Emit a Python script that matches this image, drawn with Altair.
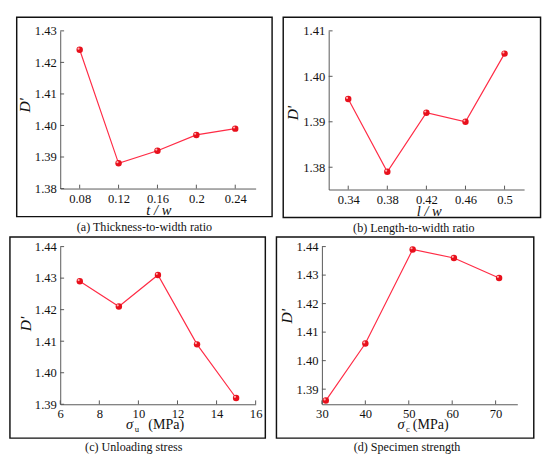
import altair as alt
import pandas as pd

# ---------------- data ----------------
a_x = [0.08, 0.12, 0.16, 0.20, 0.24]
a_y = [1.424, 1.388, 1.392, 1.397, 1.399]
a_xticks = [0.08, 0.12, 0.16, 0.20, 0.24]
a_yticks = [1.38, 1.39, 1.40, 1.41, 1.42, 1.43]

b_x = [0.34, 0.38, 0.42, 0.46, 0.50]
b_y = [1.395, 1.379, 1.392, 1.390, 1.405]
b_xticks = [0.34, 0.38, 0.42, 0.46, 0.50]
b_yticks = [1.38, 1.39, 1.40, 1.41]

c_x = [7, 9, 11, 13, 15]
c_y = [1.429, 1.421, 1.431, 1.409, 1.392]
c_xticks = [6, 8, 10, 12, 14, 16]
c_yticks = [1.39, 1.40, 1.41, 1.42, 1.43, 1.44]

d_x = [30.9, 40.0, 50.9, 60.4, 70.8]
d_y = [1.386, 1.406, 1.439, 1.436, 1.429]
d_xticks = [30, 40, 50, 60, 70]
d_yticks = [1.39, 1.40, 1.41, 1.42, 1.43, 1.44]

captions = ["(a) Thickness-to-width ratio", "(b) Length-to-width ratio",
            "(c) Unloading stress", "(d) Specimen strength"]

SERIF = "'Liberation Serif', 'Times New Roman', Times, serif"
RED_LINE = "#ff2b45"
RED = "#e8101c"
SHINE = "#ffb0b0"
AXC = "#555555"
TXT = "#111111"
ONE = pd.DataFrame({"k": [0]})


def panel(xs, ys, xdom, ydom, xticks, yticks, xfmt, w, h, frame,
          ytitle_xy, xtitle, xt_dy, caption, cap_xy):
    pts = pd.DataFrame({"x": xs, "y": ys})
    X = alt.X("x:Q", scale=alt.Scale(domain=xdom, nice=False, zero=False),
              axis=alt.Axis(values=xticks, format=xfmt, title=None, ticks=False,
                            grid=False, labelPadding=4, labelFlush=False,
                            labelOverlap=False))
    Y = alt.Y("y:Q", scale=alt.Scale(domain=ydom, nice=False, zero=False),
              axis=alt.Axis(values=yticks, format=".2f", title=None, ticks=False,
                            grid=False, labelPadding=4, labelFlush=False,
                            labelOverlap=False))
    layers = []
    fx0, fx1, fy0, fy1 = frame
    layers.append(alt.Chart(ONE).mark_rect(fillOpacity=0, stroke="#111111",
                                           strokeWidth=1.5)
                  .encode(x=alt.value(fx0), x2=alt.value(fx1),
                          y=alt.value(fy0), y2=alt.value(fy1)))
    layers.append(alt.Chart(pts).mark_line(color=RED_LINE, strokeWidth=1.2)
                  .encode(x=X, y=Y))
    layers.append(alt.Chart(pd.DataFrame({"x": xticks})).mark_rule(color=AXC, strokeWidth=1)
                  .encode(x=X, y=alt.value(h), y2=alt.value(h - 4)))
    layers.append(alt.Chart(pd.DataFrame({"y": yticks})).mark_rule(color=AXC, strokeWidth=1)
                  .encode(y=Y, x=alt.value(0), x2=alt.value(4)))
    layers.append(alt.Chart(pts).mark_circle(size=44, color=RED, opacity=1)
                  .encode(x=X, y=Y))
    layers.append(alt.Chart(pts).mark_circle(size=5, color=SHINE, opacity=1,
                                             xOffset=-1.2, yOffset=-1.2)
                  .encode(x=X, y=Y))
    # y title
    layers.append(alt.Chart(ONE).mark_text(text="D'", font=SERIF, fontStyle="italic",
                                           fontSize=16, angle=270, align="center",
                                           baseline="middle", color=TXT)
                  .encode(x=alt.value(ytitle_xy[0]), y=alt.value(ytitle_xy[1])))
    # x title parts: (text, x, dy, size, italic)
    for txt, tx, dy, fs, it in xtitle:
        kw = dict(text=txt, font=SERIF, fontSize=fs, align="left",
                  baseline="alphabetic", color=TXT)
        if it:
            kw["fontStyle"] = "italic"
        layers.append(alt.Chart(ONE).mark_text(**kw)
                      .encode(x=alt.value(tx), y=alt.value(h + xt_dy + dy)))
    layers.append(alt.Chart(ONE).mark_text(text=caption, font=SERIF, fontSize=12.5,
                                           align="center", baseline="alphabetic",
                                           color=TXT)
                  .encode(x=alt.value(cap_xy[0]), y=alt.value(cap_xy[1])))
    return alt.layer(*layers).properties(width=w, height=h)


HA, HB, HC, HD = 163, 164, 163, 163

pa = panel(a_x, a_y, [0.06, 0.261], [1.38, 1.43], a_xticks, a_yticks, "~g",
           202, HA, (-45, 219, -14, HA + 29), (-36, 77),
           [("t / w", 89, 0, 15, True)], 27, captions[0], (87, HA + 44))
pb = panel(b_x, b_y, [0.32, 0.52], [1.3751, 1.41], b_xticks, b_yticks, "~g",
           202, HB, (-47, 219, -14, HB + 29), (-37, 85),
           [("l / w", 91, 0, 15, True)], 27, captions[1], (88, HB + 44))
pc = panel(c_x, c_y, [6, 16], [1.39, 1.44], c_xticks, c_yticks, "d",
           202, HC, (-52, 212, -10, HC + 35), (-35, 80),
           [("σ", 68, 0, 15, True), ("u", 77, 3, 9, False),
            ("(MPa)", 91, 0, 14.5, False)], 26, captions[2], (76, HC + 48))
pd_ = panel(d_x, d_y, [30, 75], [1.3847, 1.44], d_xticks, d_yticks, "d",
            202, HD, (-47, 219, -10, HD + 35), (-36, 72),
            [("σ", 78, 0, 15, True), ("c", 87, 3, 9, False),
             ("(MPa)", 94, 0, 14.5, False)], 26, captions[3], (88, HD + 48))

row1 = alt.hconcat(pa, pb, spacing=7.5)
row2 = alt.hconcat(pc, pd_, spacing=7.5)
chart = alt.vconcat(row1, row2, spacing=0).properties(padding=0).configure_view(
    stroke="transparent"
).configure_axis(
    domainColor=AXC, domainWidth=1, labelFont=SERIF, labelFontSize=13,
    labelColor=TXT
).configure_concat(spacing=0)

chart.save("out.html", embed_options={"renderer": "svg", "actions": False})
